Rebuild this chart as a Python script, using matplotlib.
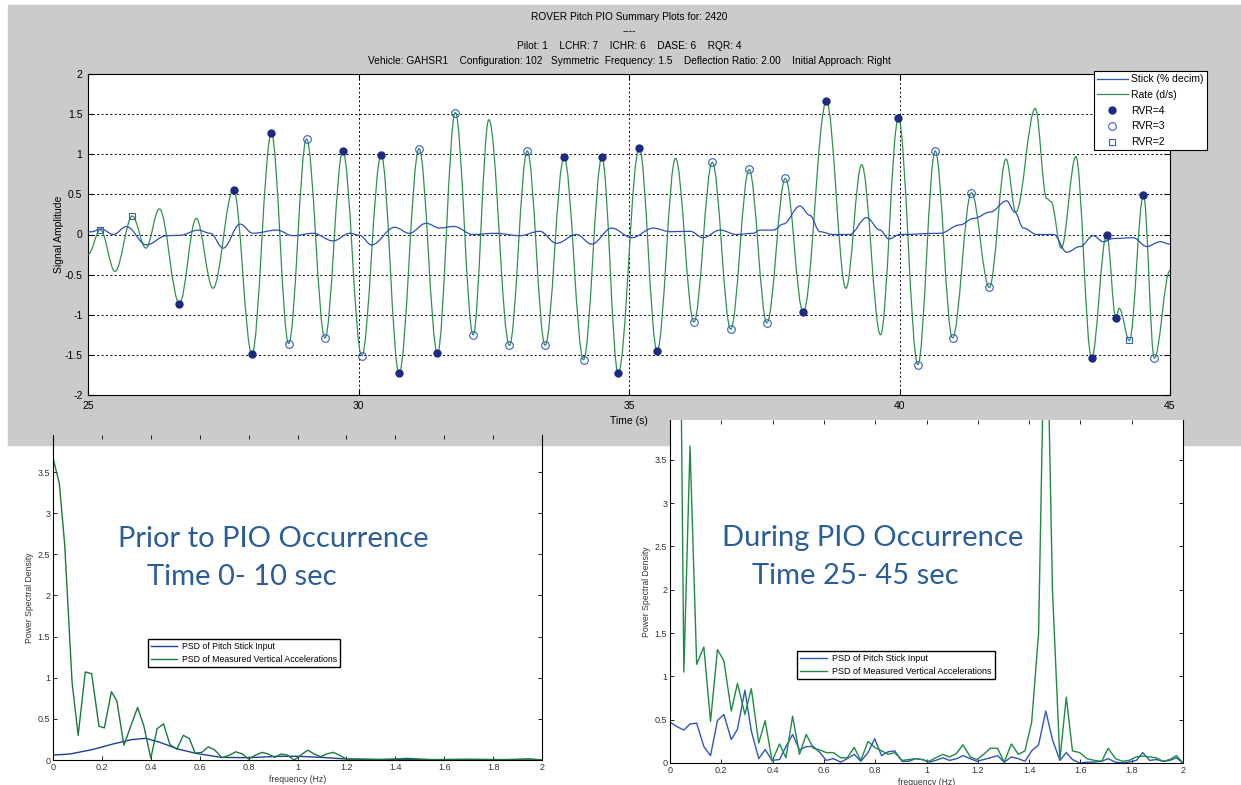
import matplotlib.pyplot as plt
from matplotlib.path import Path
from matplotlib.patches import PathPatch, Rectangle
from matplotlib.lines import Line2D

W, H = 1241, 785

# ---- top chart: time history (25 - 45 s) ----
# pitch rate trace, read at its peaks and troughs
rate_t = [25.00, 25.23, 25.50, 25.82, 26.07, 26.32, 26.69, 27.00, 27.31, 27.69,
          28.03, 28.39, 28.71, 29.04, 29.38, 29.71, 30.06, 30.42, 30.75, 31.12,
          31.46, 31.79, 32.12, 32.41, 32.79, 33.12, 33.45, 33.80, 34.16, 34.50,
          34.80, 35.19, 35.52, 35.86, 36.20, 36.54, 36.88, 37.22, 37.55, 37.89,
          38.22, 38.65, 39.01, 39.30, 39.65, 39.98, 40.34, 40.66, 40.98, 41.33,
          41.66, 41.97, 42.15, 42.51, 42.72, 42.80, 42.99, 43.26, 43.55, 43.83,
          44.00, 44.06, 44.25, 44.51, 44.71, 45.00]
rate_v = [-0.25, 0.06, -0.46, 0.23, -0.17, 0.32, -0.86, 0.20, -0.67, 0.56,
          -1.49, 1.26, -1.36, 1.19, -1.29, 1.04, -1.51, 0.99, -1.73, 1.07,
          -1.48, 1.52, -1.25, 1.43, -1.38, 1.04, -1.38, 0.96, -1.56, 0.96,
          -1.73, 1.08, -1.45, 0.95, -1.09, 0.90, -1.18, 0.81, -1.10, 0.70,
          -0.97, 1.66, -0.67, 0.87, -1.25, 1.45, -1.62, 1.04, -1.29, 0.52,
          -0.66, 0.94, 0.28, 1.57, 0.45, 0.41, -0.17, 0.97, -1.54, 0.00,
          -1.04, -0.92, -1.32, 0.49, -1.54, -0.45]

stick_t = [25.00, 25.07, 25.24, 25.47, 25.71, 26.08, 26.45, 26.70, 27.04, 27.26,
           27.50, 27.81, 28.05, 28.49, 28.79, 29.16, 29.53, 29.84, 30.02, 30.24,
           30.67, 30.94, 31.25, 31.50, 31.77, 32.11, 32.54, 32.98, 33.35, 33.66,
           34.03, 34.31, 34.68, 35.05, 35.45, 35.76, 36.13, 36.37, 36.68, 36.99,
           37.30, 37.42, 37.67, 37.85, 38.16, 38.34, 38.53, 38.77, 39.08, 39.39,
           39.64, 39.80, 40.01, 40.75, 41.12, 41.37, 41.68, 41.98, 42.13, 42.29,
           42.54, 42.85, 43.09, 43.34, 43.58, 43.77, 43.95, 44.32, 44.57, 44.82, 45.00]
stick_v = [0.03, 0.035, 0.07, 0.00, 0.10, -0.13, -0.015, -0.01, 0.055, 0.015,
           -0.17, 0.13, 0.015, 0.055, -0.015, 0.015, -0.08, 0.015, -0.01, -0.13,
           0.09, 0.015, 0.14, 0.08, 0.10, 0.00, 0.015, -0.015, 0.04, -0.11,
           0.00, -0.12, 0.08, -0.04, 0.08, 0.035, 0.04, -0.04, 0.055, 0.00,
           0.015, 0.055, 0.055, 0.13, 0.355, 0.24, 0.035, 0.00, 0.00, 0.21,
           0.055, -0.055, 0.00, 0.015, 0.12, 0.20, 0.28, 0.42, 0.28, 0.08,
           0.00, 0.00, -0.22, -0.15, -0.015, -0.09, -0.05, -0.04, -0.15, -0.09, -0.12]

rvr4_t = [26.69, 27.69, 28.03, 28.39, 29.71, 30.42, 30.75, 31.46, 33.80, 34.50,
          34.80, 35.19, 35.52, 38.22, 38.65, 39.98, 43.55, 43.83, 44.00, 44.51]
rvr4_v = [-0.86, 0.56, -1.49, 1.26, 1.04, 0.99, -1.73, -1.48, 0.96, 0.96,
          -1.73, 1.08, -1.45, -0.97, 1.66, 1.45, -1.54, 0.00, -1.04, 0.49]
rvr3_t = [28.71, 29.04, 29.38, 30.06, 31.12, 31.79, 32.12, 32.79, 33.12, 33.45,
          34.16, 36.20, 36.54, 36.88, 37.22, 37.55, 37.89, 40.34, 40.66, 40.98,
          41.33, 41.66, 44.71]
rvr3_v = [-1.36, 1.19, -1.29, -1.51, 1.07, 1.52, -1.25, -1.38, 1.04, -1.38,
          -1.56, -1.09, 0.90, -1.18, 0.81, -1.10, 0.70, -1.62, 1.04, -1.29,
          0.52, -0.66, -1.54]
rvr2_t = [25.23, 25.82, 44.25]
rvr2_v = [0.06, 0.23, -1.32]

title_lines = ["ROVER Pitch PIO Summary Plots for: 2420",
               "----",
               "Pilot: 1    LCHR: 7    ICHR: 6    DASE: 6    RQR: 4",
               "Vehicle: GAHSR1    Configuration: 102   Symmetric  Frequency: 1.5    "
               "Deflection Ratio: 2.00    Initial Approach: Right"]

# ---- bottom left: PSD 0-10 s ----
psd1_acc_f = [0, 0.026, 0.048, 0.078, 0.103, 0.132, 0.158, 0.188, 0.21, 0.239, 0.261,
              0.29, 0.346, 0.371, 0.40, 0.426, 0.452, 0.478, 0.506, 0.533, 0.558,
              0.581, 0.609, 0.635, 0.662, 0.691, 0.723, 0.748, 0.775, 0.80, 0.829,
              0.855, 0.88, 0.907, 0.933, 0.958, 0.987, 1.014, 1.042, 1.068, 1.095,
              1.12, 1.146, 1.17, 1.2, 1.25, 1.33, 1.45, 1.55, 1.7, 1.85, 1.95, 2.0]
psd1_acc = [3.67, 3.36, 2.61, 0.945, 0.30, 1.07, 1.05, 0.41, 0.39, 0.83, 0.72,
            0.18, 0.64, 0.42, 0.02, 0.38, 0.44, 0.19, 0.13, 0.30, 0.26,
            0.085, 0.093, 0.16, 0.12, 0.028, 0.06, 0.10, 0.073, 0.012, 0.06,
            0.093, 0.073, 0.032, 0.073, 0.06, 0.0, 0.06, 0.12, 0.073, 0.04,
            0.073, 0.093, 0.06, 0.012, 0.01, 0.005, 0.02, 0.005, 0.01, 0.005, 0.015, 0.0]
psd1_stick_f = [0, 0.07, 0.16, 0.246, 0.32, 0.379, 0.437, 0.51, 0.584, 0.687,
                0.80, 0.92, 0.995, 1.1, 1.2, 1.39, 2.0]
psd1_stick = [0.06, 0.073, 0.126, 0.195, 0.247, 0.264, 0.215, 0.134, 0.081, 0.032,
              0.028, 0.045, 0.045, 0.032, 0.012, 0.004, 0.0]

# ---- bottom right: PSD 25-45 s ----
psd2_f = [0, 0.027, 0.054, 0.078, 0.104, 0.132, 0.158, 0.185, 0.21, 0.239, 0.263,
          0.292, 0.317, 0.346, 0.371, 0.398, 0.427, 0.452, 0.478, 0.505, 0.531,
          0.559, 0.585, 0.609, 0.637, 0.666, 0.691, 0.718, 0.744, 0.772, 0.798,
          0.825, 0.851, 0.876, 0.905, 0.932, 0.957, 0.983, 1.01, 1.036, 1.064,
          1.09, 1.117, 1.142, 1.171, 1.196, 1.223, 1.249, 1.277, 1.303, 1.331,
          1.358, 1.384, 1.41, 1.437, 1.465, 1.491, 1.52, 1.545, 1.569, 1.597,
          1.626, 1.654, 1.683, 1.708, 1.737, 1.764, 1.79, 1.818, 1.843, 1.87,
          1.896, 1.922, 1.949, 1.974, 2.0]
psd2_acc = [9.0, 9.5, 1.05, 3.66, 1.14, 1.34, 0.48, 1.31, 1.18, 0.60, 0.92,
            0.56, 0.86, 0.23, 0.49, 0.02, 0.22, 0.06, 0.54, 0.10, 0.33,
            0.17, 0.15, 0.12, 0.12, 0.06, 0.06, 0.18, 0.03, 0.25, 0.18,
            0.14, 0.10, 0.12, 0.03, 0.04, 0.05, 0.04, 0.02, 0.06, 0.10,
            0.07, 0.11, 0.21, 0.07, 0.04, 0.10, 0.17, 0.17, 0.01, 0.22,
            0.10, 0.14, 0.47, 1.5, 6.0, 2.0, 0.04, 0.76, 0.14, 0.12,
            0.05, 0.03, 0.02, 0.17, 0.05, 0.02, 0.03, 0.07, 0.08, 0.07,
            0.06, 0.02, 0.04, 0.085, 0.0]
psd2_stick = [0.47, 0.42, 0.38, 0.45, 0.46, 0.19, 0.085, 0.49, 0.56, 0.27, 0.39,
              0.84, 0.37, 0.05, 0.155, 0.03, 0.04, 0.19, 0.33, 0.15, 0.19,
              0.19, 0.12, 0.03, 0.05, 0.01, 0.05, 0.10, 0.02, 0.12, 0.28,
              0.085, 0.13, 0.14, 0.02, 0.02, 0.05, 0.04, 0.01, 0.03, 0.06,
              0.03, 0.05, 0.085, 0.05, 0.02, 0.04, 0.06, 0.085, 0.01, 0.07,
              0.05, 0.02, 0.14, 0.21, 0.60, 0.27, 0.03, 0.12, 0.04, 0.0,
              0.01, 0.01, 0.02, 0.05, 0.01, 0.0, 0.01, 0.03, 0.12, 0.03,
              0.04, 0.02, 0.03, 0.06, 0.0]

psd_yticks = [0, 0.5, 1, 1.5, 2, 2.5, 3, 3.5]
psd_ylabels = ["0", "0.5", "1", "1.5", "2", "2.5", "3", "3.5"]
psd_xticks = [0, 0.2, 0.4, 0.6, 0.8, 1, 1.2, 1.4, 1.6, 1.8, 2]
psd_xlabels = ["0", "0.2", "0.4", "0.6", "0.8", "1", "1.2", "1.4", "1.6", "1.8", "2"]

GREEN = "#2f9150"
BLUE = "#2c4fb8"
NAVY = "#1c2a80"
TXT_BLUE = "#2b5d99"

plt.rcParams["font.family"] = ["Liberation Sans", "DejaVu Sans"]


def rect(l, t, r, b):
    # pixel box -> figure fraction
    return [l / W, 1 - b / H, (r - l) / W, (b - t) / H]


def smooth_path(xs, ys):
    # cubic segments with flat tangents at every given point
    verts = [(xs[0], ys[0])]
    codes = [Path.MOVETO]
    for x0, y0, x1, y1 in zip(xs[:-1], ys[:-1], xs[1:], ys[1:]):
        d = 0.363 * (x1 - x0)
        verts += [(x0 + d, y0), (x1 - d, y1), (x1, y1)]
        codes += [Path.CURVE4] * 3
    return Path(verts, codes)


fig = plt.figure(figsize=(W / 100, H / 100), dpi=100)
fig.patches.append(Rectangle((8 / W, 1 - 445 / H), (W - 8) / W, 440 / H,
                             transform=fig.transFigure, color="#cbcbcb", zorder=-10))

# ---------------- top chart ----------------
ax = fig.add_axes(rect(88, 74, 1170, 395))
ax.set_xlim(25, 45)
ax.set_ylim(-2, 2)
ax.add_patch(PathPatch(smooth_path(rate_t, rate_v), facecolor="none",
                       edgecolor=GREEN, lw=0.9, zorder=3))
ax.add_patch(PathPatch(smooth_path(stick_t, stick_v), facecolor="none",
                       edgecolor=BLUE, lw=0.9, zorder=4))
ax.plot(rvr4_t, rvr4_v, "o", ms=5, color=NAVY, zorder=5)
ax.plot(rvr3_t, rvr3_v, "o", ms=5.5, mfc="none", mec="#3a5cc8", mew=0.8, zorder=5)
ax.plot(rvr2_t, rvr2_v, "s", ms=5, mfc="none", mec="#3a5cc8", mew=0.8, zorder=5)

ax.set_xticks([25, 30, 35, 40, 45])
ax.set_xticklabels(["25", "30", "35", "40", "45"])
ax.set_yticks([-2, -1.5, -1, -0.5, 0, 0.5, 1, 1.5, 2])
ax.set_yticklabels(["-2", "-1.5", "-1", "-0.5", "0", "0.5", "1", "1.5", "2"])
ax.tick_params(direction="in", top=True, right=True, length=4, labelsize=7.5, pad=4)
ax.grid(True, color="black", linestyle=(0, (2, 2.5)), linewidth=0.7)
for s in ax.spines.values():
    s.set_linewidth(0.8)
ax.set_xlabel("Time (s)", fontsize=7.5, labelpad=4)
ax.set_ylabel("Signal Amplitude", fontsize=7.5, labelpad=0)

for line, y in zip(title_lines, [17, 31, 46, 61]):
    fig.text(629 / W, 1 - y / H, line, ha="center", va="center", fontsize=7.3)

handles = [Line2D([], [], color=BLUE, lw=0.9),
           Line2D([], [], color=GREEN, lw=0.9),
           Line2D([], [], ls="none", marker="o", ms=5, color=NAVY),
           Line2D([], [], ls="none", marker="o", ms=5.5, mfc="none", mec="#3a5cc8", mew=0.8),
           Line2D([], [], ls="none", marker="s", ms=5, mfc="none", mec="#3a5cc8", mew=0.8)]
leg = ax.legend(handles, ["Stick (% decim)", "Rate (d/s)", "RVR=4", "RVR=3", "RVR=2"],
                loc="upper right", bbox_to_anchor=(1.034, 1.009), borderaxespad=0,
                fontsize=7.5, handlelength=3.0, labelspacing=0.55, fancybox=False,
                framealpha=1, edgecolor="black", handletextpad=0.3, borderpad=0.3)
leg.get_frame().set_linewidth(0.8)
leg.set_zorder(10)


def psd_axes(box, ylim_top):
    a = fig.add_axes(box)
    a.set_xlim(0, 2)
    a.set_ylim(0, ylim_top)
    a.set_xticks(psd_xticks)
    a.set_xticklabels(psd_xlabels)
    a.set_yticks(psd_yticks)
    a.set_yticklabels(psd_ylabels)
    a.tick_params(direction="in", top=True, right=True, length=3, labelsize=6.5,
                  labelcolor="#333333", pad=2, width=0.6)
    a.spines["top"].set_visible(False)
    for s in ["left", "right", "bottom"]:
        a.spines[s].set_linewidth(0.8)
    a.set_xlabel("frequency (Hz)", fontsize=6.2, color="#333333", labelpad=2)
    a.set_ylabel("Power Spectral Density", fontsize=6.2, color="#333333", labelpad=3)
    return a


# ---------------- bottom left ----------------
ax1 = psd_axes(rect(53, 435, 542, 760), 3.95)
ax1.patch.set_alpha(0)
ax1.plot(psd1_stick_f, psd1_stick, color="#1f3e9c", lw=1, label="PSD of Pitch Stick Input")
ax1.plot(psd1_acc_f, psd1_acc, color="#1a7a3c", lw=1, label="PSD of Measured Vertical Accelerations")
l1 = ax1.legend(loc="upper left", bbox_to_anchor=(0.194, 0.372), borderaxespad=0,
                fontsize=6.3, handlelength=3.0, fancybox=False, framealpha=1,
                edgecolor="black", borderpad=0.35, labelspacing=0.45, handletextpad=0.5)
l1.get_frame().set_linewidth(1.0)
fig.text(118 / W, 1 - 539 / H, "Prior to PIO Occurrence", fontsize=21, color=TXT_BLUE,
         family=["Lato", "DejaVu Sans"], va="center", ha="left")
fig.text(147 / W, 1 - 577 / H, "Time 0- 10 sec", fontsize=21, color=TXT_BLUE,
         family=["Lato", "DejaVu Sans"], va="center", ha="left")

# ---------------- bottom right ----------------
ax2 = psd_axes(rect(670, 420, 1183, 763), 3.96)
ax2.plot(psd2_f, psd2_stick, color="#2f55c0", lw=1, label="PSD of Pitch Stick Input")
ax2.plot(psd2_f, psd2_acc, color="#1f8a45", lw=1, label="PSD of Measured Vertical Accelerations")
l2 = ax2.legend(loc="upper left", bbox_to_anchor=(0.248, 0.327), borderaxespad=0,
                fontsize=6.5, handlelength=3.0, fancybox=False, framealpha=1,
                edgecolor="black", borderpad=0.35, labelspacing=0.45, handletextpad=0.5)
l2.get_frame().set_linewidth(1.0)
fig.text(722 / W, 1 - 538 / H, "During PIO Occurrence", fontsize=21, color=TXT_BLUE,
         family=["Lato", "DejaVu Sans"], va="center", ha="left")
fig.text(752 / W, 1 - 576 / H, "Time 25- 45 sec", fontsize=21, color=TXT_BLUE,
         family=["Lato", "DejaVu Sans"], va="center", ha="left")

fig.savefig("out.png", dpi=100)
